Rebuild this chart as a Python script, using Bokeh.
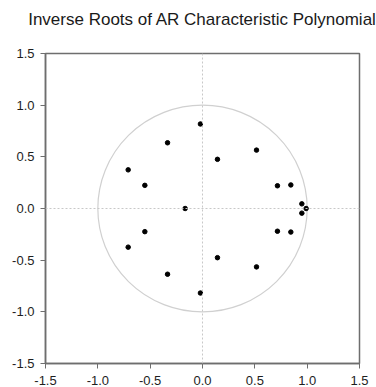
from bokeh.plotting import figure
from bokeh.models import Span, FixedTicker, NumeralTickFormatter, Range1d, ColumnDataSource, Title
from bokeh.embed import file_html
from bokeh.resources import INLINE

# Inverse AR roots (real, imaginary parts)
root_re = [-0.02, -0.02, -0.334, -0.334, 0.143, 0.143, -0.71, -0.71,
           -0.551, -0.551, -0.166, 0.516, 0.516, 0.716, 0.716,
           0.844, 0.844, 0.949, 0.949, 0.99]
root_im = [0.818, -0.818, 0.636, -0.636, 0.476, -0.476, 0.374, -0.374,
           0.224, -0.224, 0.0, 0.565, -0.565, 0.22, -0.22,
           0.228, -0.228, 0.045, -0.045, 0.0]
tick_values = [-1.5, -1.0, -0.5, 0.0, 0.5, 1.0, 1.5]
title_text = "Inverse Roots of AR Characteristic Polynomial"

FONT = "Liberation Sans"
FRAME = "#6e6e6e"

p = figure(width=376, height=387, output_backend="svg", toolbar_location=None,
           x_range=Range1d(-1.5, 1.5), y_range=Range1d(-1.5, 1.5),
           min_border_left=45, min_border_right=17,
           min_border_top=53, min_border_bottom=22)
p.title.text = ""

# blank gap between the heading and the frame
p.add_layout(Title(text=" ", text_font=FONT, text_font_size="4px", standoff=18), "above")
# heading, centred over the frame
p.add_layout(Title(text=title_text, text_font=FONT, text_font_size="17px",
                   text_font_style="normal", text_color="#1a1a1a",
                   align="center", vertical_align="bottom", standoff=0), "above")

p.grid.visible = False
p.background_fill_color = "white"
p.border_fill_color = "white"
p.outline_line_color = FRAME
p.outline_line_width = 1.5

for ax in (p.xaxis[0], p.yaxis[0]):
    ax.ticker = FixedTicker(ticks=tick_values)
    ax.formatter = NumeralTickFormatter(format="0.0")
    ax.axis_line_color = FRAME
    ax.axis_line_width = 1.5
    ax.major_tick_line_color = FRAME
    ax.major_tick_out = 5
    ax.major_tick_in = 0
    ax.minor_tick_line_color = None
    ax.major_label_text_font = FONT
    ax.major_label_text_font_size = "13px"
    ax.major_label_text_color = "#1e1e1e"

p.xaxis[0].major_label_standoff = 7
p.yaxis[0].major_label_standoff = 6

# zero reference lines
for dim in ("width", "height"):
    p.add_layout(Span(location=0, dimension=dim, line_color="#c8c8c8",
                      line_width=1, line_dash="2 2"))

# unit circle
p.ellipse(x=0, y=0, width=2, height=2, fill_color=None,
          line_color="#d0d0d0", line_width=1.2)

src = ColumnDataSource(data=dict(re=root_re, im=root_im))
p.scatter("re", "im", source=src, size=4.5, fill_color="black", line_color="black")

open("out.html", "w").write(file_html(p, INLINE))
